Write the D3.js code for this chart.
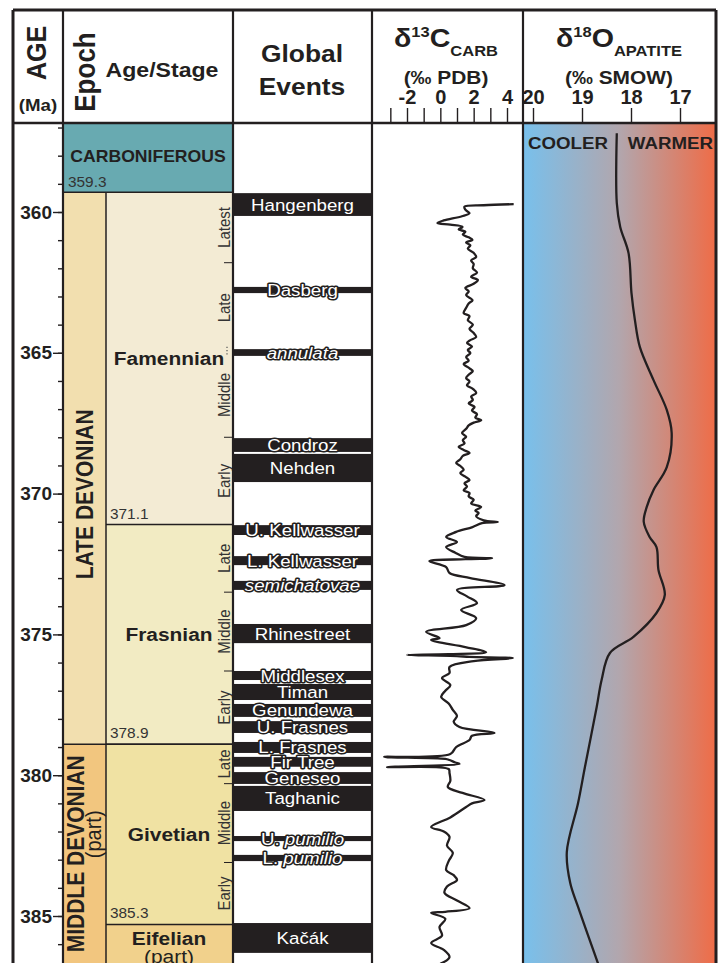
<!DOCTYPE html>
<html>
<head>
<meta charset="utf-8">
<script src="https://cdn.jsdelivr.net/npm/d3@7"></script>
<style>
  body { margin: 0; background: #fff; }
  svg text { font-family: "Liberation Sans", Arial, sans-serif; }
</style>
</head>
<body>
<div id="chart"></div>
<script>
// ---- data (ages in Ma) ----
var ageMajor = [360, 365, 370, 375, 380, 385];
var ageMinor = d3.range(357, 387);

var period = [{ name: "CARBONIFEROUS", top: 356.0, base: 359.3 }];

var epochs = [
  { name: "LATE DEVONIAN", sub: "", top: 359.3, base: 378.9 },
  { name: "MIDDLE DEVONIAN", sub: "(part)", top: 378.9, base: 388 }
];

var stages = [
  { name: "Famennian", sub: "", top: 359.3, base: 371.1, showBase: true },
  { name: "Frasnian", sub: "", top: 371.1, base: 378.9, showBase: true },
  { name: "Givetian", sub: "", top: 378.9, base: 385.3, showBase: true },
  { name: "Eifelian", sub: "(part)", top: 385.3, base: 388, showBase: false }
];

var substages = [
  { name: "Latest", top: 359.3, base: 361.8 },
  { name: "Late", top: 361.8, base: 365.0 },
  { name: "Middle", top: 365.0, base: 368.0 },
  { name: "Early", top: 368.0, base: 371.1 },
  { name: "Late", top: 371.1, base: 373.5 },
  { name: "Middle", top: 373.5, base: 376.3 },
  { name: "Early", top: 376.3, base: 378.9 },
  { name: "Late", top: 378.9, base: 380.3 },
  { name: "Middle", top: 380.3, base: 383.1 },
  { name: "Early", top: 383.1, base: 385.3 }
];
var substageDividers = [361.8, 368.0, 373.5, 376.3, 380.3, 383.1];
var dottedDividers = [365.0];

var events = [
  { label: "Hangenberg", top: 359.33, base: 360.14 },
  { label: "Dasberg", top: 362.66, base: 362.88 },
  { label: "annulata", top: 364.87, base: 365.11 },
  { label: "Condroz", top: 368.03, base: 368.52 },
  { label: "Nehden", top: 368.59, base: 369.59 },
  { label: "U. Kellwasser", top: 371.12, base: 371.47 },
  { label: "L. Kellwasser", top: 372.22, base: 372.54 },
  { label: "semichatovae", top: 373.10, base: 373.42 },
  { label: "Rhinestreet", top: 374.63, base: 375.31 },
  { label: "Middlesex", top: 376.30, base: 376.62 },
  { label: "Timan", top: 376.76, base: 377.33 },
  { label: "Genundewa", top: 377.47, base: 377.93 },
  { label: "U. Frasnes", top: 378.08, base: 378.50 },
  { label: "L. Frasnes", top: 378.82, base: 379.21 },
  { label: "Fir Tree", top: 379.35, base: 379.70 },
  { label: "Geneseo", top: 379.89, base: 380.31 },
  { label: "Taghanic", top: 380.38, base: 381.27 },
  { label: "U. pumilio", top: 382.16, base: 382.34 },
  { label: "L. pumilio", top: 382.83, base: 383.05 },
  { label: "Kačák", top: 385.25, base: 386.31 }
];
var italicWords = ["annulata", "semichatovae", "pumilio"];

var carbonTicks = [-3, -2, -1, 0, 1, 2, 3, 4];
var oxygenTicks = [20, 19, 18, 17];

// [age, d13C permil PDB]
var d13C = [
  [359.72, 4.4], [359.76, 2.6], [359.81, 1.45], [359.92, 1.5], [360.04, 1.75], [360.15, 1.3],
  [360.30, 0.2], [360.39, -0.17], [360.45, 0.6], [360.53, 1.33], [360.62, 1.1], [360.70, 1.5],
  [360.80, 1.35], [360.90, 1.7], [360.99, 1.93], [361.08, 1.55], [361.18, 1.8], [361.30, 1.65],
  [361.45, 2.0], [361.60, 2.15], [361.72, 1.85], [361.85, 2.0], [362.00, 1.95], [362.15, 2.2],
  [362.30, 1.85], [362.41, 2.25], [362.55, 2.0], [362.70, 1.5], [362.82, 1.7], [362.95, 1.55],
  [363.13, 1.93], [363.25, 1.7], [363.40, 1.55], [363.59, 1.4], [363.70, 1.75], [363.84, 1.65],
  [364.00, 1.95], [364.15, 1.75], [364.30, 2.0], [364.44, 2.15], [364.55, 1.8], [364.65, 1.6],
  [364.78, 1.9], [364.90, 1.65], [365.01, 1.8], [365.15, 1.55], [365.28, 1.7], [365.40, 1.4],
  [365.55, 1.75], [365.65, 1.95], [365.78, 1.7], [365.90, 1.55], [366.02, 1.75], [366.15, 1.6],
  [366.28, 1.95], [366.43, 2.15], [366.55, 1.85], [366.68, 1.95], [366.80, 1.7], [366.92, 2.05],
  [367.05, 1.9], [367.18, 2.2], [367.30, 2.1], [367.39, 2.45], [367.48, 2.0], [367.58, 1.7],
  [367.70, 1.55], [367.85, 1.3], [367.98, 1.55], [368.10, 1.35], [368.22, 1.45], [368.34, 1.1],
  [368.45, 1.4], [368.56, 1.75], [368.66, 1.35], [368.78, 1.2], [368.91, 0.95], [369.02, 1.2],
  [369.15, 1.4], [369.27, 1.2], [369.40, 1.5], [369.52, 1.75], [369.63, 1.45], [369.75, 1.6],
  [369.88, 1.4], [369.98, 1.75], [370.10, 1.7], [370.22, 2.0], [370.35, 1.85], [370.48, 2.45],
  [370.60, 2.1], [370.69, 2.3], [370.80, 2.15], [370.95, 2.6], [371.01, 3.45],
  [371.05, 2.5], [371.19, 1.93], [371.36, 0.95], [371.54, 0.35], [371.72, 1.0], [371.90, 0.35],
  [372.10, 0.9], [372.25, 1.45], [372.30, 3.1], [372.33, 1.5], [372.40, -0.66], [372.61, 0.35],
  [372.82, 0.55], [373.00, 1.8], [373.25, 3.85], [373.42, 1.0], [373.65, 1.6], [373.89, 2.2],
  [374.13, 1.25], [374.42, 2.15], [374.67, 1.55], [374.91, -0.85], [375.13, -0.05], [375.20, -0.55],
  [375.45, 1.5], [375.63, 2.75], [375.70, 0.5], [375.73, -2.0], [375.77, 1.0], [375.80, 1.75],
  [375.84, 4.35], [375.95, 2.0], [376.16, 0.55], [376.37, 0.55], [376.55, 0.1], [376.80, 0.6],
  [377.00, 0.3], [377.22, 0.05], [377.45, 0.5], [377.68, 0.75], [377.90, 1.0], [378.10, 0.8],
  [378.29, 1.15], [378.50, 3.25], [378.60, 1.9], [378.75, 1.75], [379.00, 0.95], [379.25, 0.6],
  [379.35, -3.37], [379.42, 0.3], [379.46, 0.55], [379.55, 0.9], [379.60, 1.15], [379.71, -3.2],
  [379.78, 0.5], [379.92, 0.55], [380.20, 0.6], [380.42, 0.45], [380.63, 1.33], [380.88, 2.65],
  [381.00, 1.9], [381.13, 1.55], [381.50, 0.6], [381.84, -0.55], [382.00, 0.2], [382.19, 0.55],
  [382.50, 0.4], [382.76, 0.75], [383.05, 0.5], [383.37, 0.35], [383.55, 0.8], [383.72, 1.0],
  [383.95, 0.4], [384.18, 0.25], [384.45, 1.0], [384.72, 1.75], [384.85, 0.3], [384.89, -0.55],
  [385.10, 0.3], [385.39, -0.05], [385.70, 0.1], [385.96, -0.55], [386.20, 0.2], [386.46, 0.55],
  [386.70, 0.0]
];

// [age, d18O permil SMOW]
var d18O = [
  [357.20, 18.29], [359.68, 18.29], [360.53, 18.22], [361.46, 18.05], [362.88, 17.99],
  [363.84, 17.92], [364.79, 17.82], [365.97, 17.54], [367.03, 17.27], [367.85, 17.17],
  [369.06, 17.27], [369.87, 17.54], [370.48, 17.68], [371.00, 17.74], [371.54, 17.62],
  [371.90, 17.48], [372.71, 17.44], [373.60, 17.31], [374.24, 17.48], [375.09, 17.95],
  [375.66, 18.43], [376.62, 18.60], [377.58, 18.70], [379.71, 18.94], [380.99, 19.08],
  [382.73, 19.31], [383.83, 19.24], [384.68, 19.08], [386.70, 18.67]
];

// ---- styles ----
var unitColor = {
  "CARBONIFEROUS": "#68aab1",
  "LATE DEVONIAN": "#f2dfaf",
  "MIDDLE DEVONIAN": "#f2c67f",
  "Famennian": "#f3ebd4",
  "Frasnian": "#f2ebc3",
  "Givetian": "#f0e2a3",
  "Eifelian": "#f1d18c"
};
var INK = "#231f20";
var SX = 1.1; // horizontal stretch of lettering

// ---- layout ----
var W = 721, H = 963;
var xAge = 13, xEpoch = 63, xStage = 106, xEvents = 233, xCarb = 372, xOxy = 523, xRight = 716;
var headTop = 10, headBot = 123;

var svg = d3.select("#chart").append("svg")
  .attr("width", W).attr("height", H)
  .style("display", "block");

var y = d3.scaleLinear().domain([360, 385]).range([212, 916]);
var xC = d3.scaleLinear().domain([-2, 4]).range([407, 507]);
var xO = d3.scaleLinear().domain([20, 17]).range([533, 680]);

var clipY = function (a) { return Math.max(headBot, Math.min(H + 5, y(a))); };

function txt(parent, x, yy, s, o) {
  o = o || {};
  var t = parent.append("text")
    .attr("transform", "translate(" + x + "," + yy + ")" +
      (o.rot ? " rotate(-90) scale(1," + SX + ")" : " scale(" + SX + ",1)"))
    .attr("text-anchor", o.anchor || "middle")
    .attr("font-size", o.size || 16)
    .attr("font-weight", o.bold ? "bold" : "normal")
    .attr("fill", o.fill || INK);
  if (o.italic) t.attr("font-style", "italic");
  if (s !== null) t.text(s);
  return t;
}

// ---- oxygen background gradient ----
var defs = svg.append("defs");
var grad = defs.append("linearGradient").attr("id", "warm").attr("x1", "0").attr("x2", "1").attr("y1", "0").attr("y2", "0");
grad.append("stop").attr("offset", "0%").attr("stop-color", "#78c0ec");
grad.append("stop").attr("offset", "50%").attr("stop-color", "#b2a6ad");
grad.append("stop").attr("offset", "100%").attr("stop-color", "#ef6c47");

svg.append("rect").attr("x", xOxy).attr("y", headBot).attr("width", xRight - xOxy).attr("height", H - headBot)
  .attr("fill", "url(#warm)");

// ---- chronostratigraphy ----
svg.selectAll("rect.period").data(period).enter().append("rect")
  .attr("x", xEpoch).attr("width", xEvents - xEpoch)
  .attr("y", d => clipY(d.top)).attr("height", d => clipY(d.base) - clipY(d.top))
  .attr("fill", d => unitColor[d.name]);

svg.selectAll("rect.epoch").data(epochs).enter().append("rect")
  .attr("x", xEpoch).attr("width", xStage - xEpoch)
  .attr("y", d => clipY(d.top)).attr("height", d => clipY(d.base) - clipY(d.top))
  .attr("fill", d => unitColor[d.name]);

svg.selectAll("rect.stage").data(stages).enter().append("rect")
  .attr("x", xStage).attr("width", xEvents - xStage)
  .attr("y", d => clipY(d.top)).attr("height", d => clipY(d.base) - clipY(d.top))
  .attr("fill", d => unitColor[d.name]);

// unit boundaries
var bounds = svg.append("g").attr("stroke", INK).attr("stroke-width", 1.5);
bounds.append("line").attr("x1", xEpoch).attr("x2", xEvents).attr("y1", y(359.3)).attr("y2", y(359.3));
epochs.slice(1).forEach(d => {
  bounds.append("line").attr("x1", xEpoch).attr("x2", xEvents).attr("y1", y(d.top)).attr("y2", y(d.top));
});
stages.slice(1).forEach(d => {
  bounds.append("line").attr("x1", xStage).attr("x2", xEvents).attr("y1", y(d.top)).attr("y2", y(d.top));
});
bounds.append("line").attr("x1", xStage).attr("x2", xStage).attr("y1", y(359.3)).attr("y2", H);

// substage dividers
substageDividers.forEach(a => {
  svg.append("line").attr("x1", xEvents - 9).attr("x2", xEvents).attr("y1", y(a)).attr("y2", y(a))
    .attr("stroke", INK).attr("stroke-width", 1);
});
dottedDividers.forEach(a => {
  svg.append("line").attr("x1", xEvents - 6).attr("x2", xEvents - 6).attr("y1", y(a) - 6).attr("y2", y(a) + 2)
    .attr("stroke", "#555").attr("stroke-width", 1.2).attr("stroke-dasharray", "1.2,2");
});

// unit labels
period.forEach(d => {
  txt(svg, (xEpoch + xEvents) / 2, 162, d.name, { size: 16, bold: true });
  txt(svg, xEpoch + 5, y(d.base) - 5, d.base.toFixed(1), { size: 14, anchor: "start", fill: "#333" });
});
txt(svg, 93, (y(epochs[0].top) + y(epochs[0].base)) / 2 + 26, epochs[0].name, { rot: true, size: 21, bold: true });
txt(svg, 84, y(epochs[1].top) + 11, epochs[1].name, { rot: true, size: 21, bold: true, anchor: "end" });
txt(svg, 101, y(382.1), epochs[1].sub, { rot: true, size: 20 });

stages.forEach((d, i) => {
  var mid = d.showBase ? (y(d.top) + y(d.base)) / 2 + 7 : y(d.top) + 21;
  txt(svg, 169, mid, d.name, { size: 19, bold: true });
  if (d.sub) txt(svg, 169, mid + 18, d.sub, { size: 19 });
  if (d.showBase) txt(svg, xStage + 4, y(d.base) - 6, d.base.toFixed(1), { size: 14, anchor: "start", fill: "#333" });
});

substages.forEach(d => {
  txt(svg, 230, (y(d.top) + y(d.base)) / 2, d.name, { rot: true, size: 15, fill: "#333" });
});

// ---- global events ----
var ev = svg.append("g");
ev.selectAll("rect").data(events).enter().append("rect")
  .attr("x", xEvents).attr("width", xCarb - xEvents)
  .attr("y", d => y(d.top)).attr("height", d => y(d.base) - y(d.top))
  .attr("fill", INK);

events.forEach(d => {
  var h = y(d.base) - y(d.top);
  var t = txt(ev, (xEvents + xCarb) / 2, (y(d.top) + y(d.base)) / 2 + 6, null, { size: 17, fill: "#fff" });
  d.label.split(" ").forEach((w, i) => {
    t.append("tspan").attr("font-style", italicWords.indexOf(w) >= 0 ? "italic" : "normal")
      .text((i > 0 ? " " : "") + w);
  });
  if (h < 18) {
    t.attr("stroke", INK).attr("stroke-width", 3).attr("stroke-linejoin", "round").attr("paint-order", "stroke");
  }
});

// ---- curves ----
svg.append("path").datum(d13C)
  .attr("fill", "none").attr("stroke", INK).attr("stroke-width", 2.3).attr("stroke-linejoin", "round")
  .attr("d", d3.line().x(d => xC(d[1])).y(d => y(d[0])).curve(d3.curveCatmullRom.alpha(0.5)));

svg.append("path").datum(d18O)
  .attr("fill", "none").attr("stroke", INK).attr("stroke-width", 2.3)
  .attr("d", d3.line().x(d => xO(d[1])).y(d => y(d[0])).curve(d3.curveCatmullRom.alpha(0.5)));

txt(svg, xOxy + 5, 149, "COOLER", { size: 17, bold: true, anchor: "start" });
txt(svg, xRight - 3, 149, "WARMER", { size: 17, bold: true, anchor: "end" });

// ---- axes ----
var ageAxis = svg.append("g").attr("transform", "translate(" + xEpoch + ",0)")
  .call(d3.axisLeft(y).tickValues(ageMajor).tickSize(10).tickPadding(1).tickFormat(d3.format("d")));
var ageMinorAxis = svg.append("g").attr("transform", "translate(" + xEpoch + ",0)")
  .call(d3.axisLeft(y).tickValues(ageMinor).tickSize(5).tickFormat(""));

var cAxis = svg.append("g").attr("transform", "translate(0," + headBot + ")")
  .call(d3.axisTop(xC).tickValues(carbonTicks).tickSize(15).tickPadding(4)
    .tickFormat(d => d % 2 === 0 ? String(d) : ""));

var oAxis = svg.append("g").attr("transform", "translate(0," + headBot + ")")
  .call(d3.axisTop(xO).tickValues(oxygenTicks).tickSize(15).tickPadding(4).tickFormat(d3.format("d")));

[ageAxis, ageMinorAxis, cAxis, oAxis].forEach(a => {
  a.select(".domain").remove();
  a.selectAll("line").attr("stroke", INK).attr("stroke-width", 1.4);
  a.selectAll("text").attr("fill", INK).attr("font-weight", "bold")
    .attr("font-family", "'Liberation Sans', Arial, sans-serif");
});
ageAxis.selectAll("text").attr("font-size", 19);
cAxis.selectAll("text").attr("font-size", 20);
oAxis.selectAll("text").attr("font-size", 20);

// ---- frame and column rules ----
var frame = svg.append("g").attr("stroke", INK).attr("fill", "none");
frame.append("line").attr("x1", xAge).attr("x2", xRight).attr("y1", headTop).attr("y2", headTop).attr("stroke-width", 3);
frame.append("line").attr("x1", xAge).attr("x2", xRight).attr("y1", headBot).attr("y2", headBot).attr("stroke-width", 2.5);
frame.append("line").attr("x1", xAge).attr("x2", xAge).attr("y1", headTop).attr("y2", H).attr("stroke-width", 3);
frame.append("line").attr("x1", xRight).attr("x2", xRight).attr("y1", headTop).attr("y2", H).attr("stroke-width", 3);
[xEpoch, xEvents, xCarb, xOxy].forEach(x => {
  frame.append("line").attr("x1", x).attr("x2", x).attr("y1", headTop).attr("y2", H).attr("stroke-width", 2.2);
});

// ---- header ----
txt(svg, 46, 53, "AGE", { rot: true, size: 25, bold: true });
txt(svg, 38, 111, "(Ma)", { size: 17, bold: true });
txt(svg, 95, 72, "Epoch", { rot: true, size: 26, bold: true });
txt(svg, 162, 77, "Age/Stage", { size: 21, bold: true });
txt(svg, 302, 62, "Global", { size: 24, bold: true });
txt(svg, 302, 95, "Events", { size: 24, bold: true });

function isoHead(cx, iso, el, sub, unit) {
  var t = txt(svg, cx, 47, null, { size: 26, bold: true });
  t.append("tspan").text("δ");
  t.append("tspan").attr("font-size", 15).attr("dy", -10).text(iso);
  t.append("tspan").attr("dy", 10).text(el);
  t.append("tspan").attr("font-size", 15).attr("dy", 9).text(sub);
  txt(svg, cx, 84, unit, { size: 19, bold: true });
}
isoHead(446, "13", "C", "CARB", "(‰ PDB)");
isoHead(619, "18", "O", "APATITE", "(‰ SMOW)");
</script>
</body>
</html>
